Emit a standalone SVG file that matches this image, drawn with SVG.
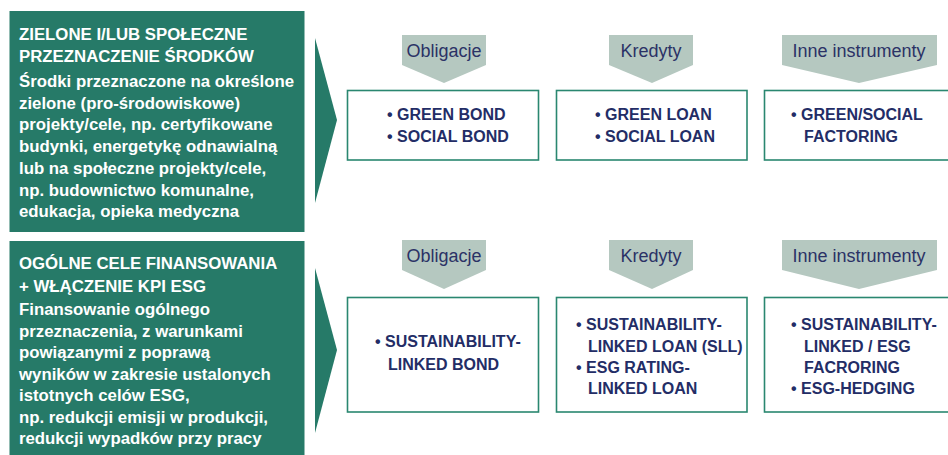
<svg xmlns="http://www.w3.org/2000/svg" width="948" height="455" viewBox="0 0 948 455">
<style>
.panel{fill:#267a68}
.arrow{fill:#267a68}
.hdr{fill:#b5c8c0}
.box{fill:#fff;stroke:#2a8770;stroke-width:1.6}
.wt{font-family:"Liberation Sans",Arial,sans-serif;font-weight:bold;font-size:16.8px;fill:#fff}
.ht{font-family:"Liberation Sans",Arial,sans-serif;font-size:18px;fill:#2b3266;text-anchor:middle}
.bt{font-family:"Liberation Sans",Arial,sans-serif;font-weight:bold;font-size:16px;fill:#232d66}
</style>
<rect width="948" height="455" fill="#fff"/>

<g id="panel-top">
<rect class="panel" x="9.5" y="11" width="295" height="221"/>
<text class="wt" x="19" y="40">ZIELONE I/LUB SPOŁECZNE</text>
<text class="wt" x="19" y="62">PRZEZNACZENIE ŚRODKÓW</text>
<text class="wt" x="19" y="87">Środki przeznaczone na określone</text>
<text class="wt" x="19" y="108.7">zielone (pro-środowiskowe)</text>
<text class="wt" x="19" y="130.4">projekty/cele, np. certyfikowane</text>
<text class="wt" x="19" y="152.1">budynki, energetykę odnawialną</text>
<text class="wt" x="19" y="173.8">lub na społeczne projekty/cele,</text>
<text class="wt" x="19" y="195.5">np. budownictwo komunalne,</text>
<text class="wt" x="19" y="217.2">edukacja, opieka medyczna</text>
</g>

<g id="panel-bottom">
<rect class="panel" x="9.5" y="241" width="295" height="214"/>
<text class="wt" x="19" y="269">OGÓLNE CELE FINANSOWANIA</text>
<text class="wt" x="19" y="292">+ WŁĄCZENIE KPI ESG</text>
<text class="wt" x="19" y="315">Finansowanie ogólnego</text>
<text class="wt" x="19" y="336.5">przeznaczenia, z warunkami</text>
<text class="wt" x="19" y="358">powiązanymi z poprawą</text>
<text class="wt" x="19" y="379.5">wyników w zakresie ustalonych</text>
<text class="wt" x="19" y="401">istotnych celów ESG,</text>
<text class="wt" x="19" y="422.5">np. redukcji emisji w produkcji,</text>
<text class="wt" x="19" y="444">redukcji wypadków przy pracy</text>
</g>

<g id="connectors">
<polygon class="arrow" points="315,38 337,120 315,203"/>
<polygon class="arrow" points="315,268 337,350 315,433"/>
</g>

<g id="hdr-top-obligacje">
<polygon class="hdr" points="402,35 486,35 486,65 444,83 402,65"/>
<text class="ht" x="444" y="57">Obligacje</text>
</g>
<g id="hdr-top-kredyty">
<polygon class="hdr" points="609,35 693,35 693,65 652,83 609,65"/>
<text class="ht" x="651" y="57">Kredyty</text>
</g>
<g id="hdr-top-inne">
<polygon class="hdr" points="782,35 937,35 937,65 859,83 782,65"/>
<text class="ht" x="859" y="57">Inne instrumenty</text>
</g>

<g id="box-top-bonds">
<rect class="box" x="347.5" y="90.5" width="191" height="69.5"/>
<text class="bt" x="387" y="120">• GREEN BOND</text>
<text class="bt" x="387" y="142">• SOCIAL BOND</text>
</g>
<g id="box-top-loans">
<rect class="box" x="556.5" y="90.5" width="190.5" height="69.5"/>
<text class="bt" x="595" y="120">• GREEN LOAN</text>
<text class="bt" x="595" y="142">• SOCIAL LOAN</text>
</g>
<g id="box-top-other">
<rect class="box" x="764.5" y="90.5" width="190" height="69.5"/>
<text class="bt" x="791" y="120">• GREEN/SOCIAL</text>
<text class="bt" x="804" y="142">FACTORING</text>
</g>

<g id="hdr-bot-obligacje">
<polygon class="hdr" points="402,240 486,240 486,270 444,289 402,270"/>
<text class="ht" x="444" y="262">Obligacje</text>
</g>
<g id="hdr-bot-kredyty">
<polygon class="hdr" points="609,240 693,240 693,270 652,289 609,270"/>
<text class="ht" x="651" y="262">Kredyty</text>
</g>
<g id="hdr-bot-inne">
<polygon class="hdr" points="782,240 937,240 937,270 859,289 782,270"/>
<text class="ht" x="859" y="262">Inne instrumenty</text>
</g>

<g id="box-bot-bonds">
<rect class="box" x="347.5" y="297.5" width="191" height="114.5"/>
<text class="bt" x="375" y="347">• SUSTAINABILITY-</text>
<text class="bt" x="388" y="370">LINKED BOND</text>
</g>
<g id="box-bot-loans">
<rect class="box" x="556.5" y="297.5" width="190.5" height="114.5"/>
<text class="bt" x="576" y="330">• SUSTAINABILITY-</text>
<text class="bt" x="588" y="352">LINKED LOAN (SLL)</text>
<text class="bt" x="576" y="373">• ESG RATING-</text>
<text class="bt" x="588" y="394">LINKED LOAN</text>
</g>
<g id="box-bot-other">
<rect class="box" x="764.5" y="297.5" width="190" height="114.5"/>
<text class="bt" x="791" y="330">• SUSTAINABILITY-</text>
<text class="bt" x="804" y="352">LINKED / ESG</text>
<text class="bt" x="804" y="373">FACRORING</text>
<text class="bt" x="791" y="394">• ESG-HEDGING</text>
</g>
</svg>
